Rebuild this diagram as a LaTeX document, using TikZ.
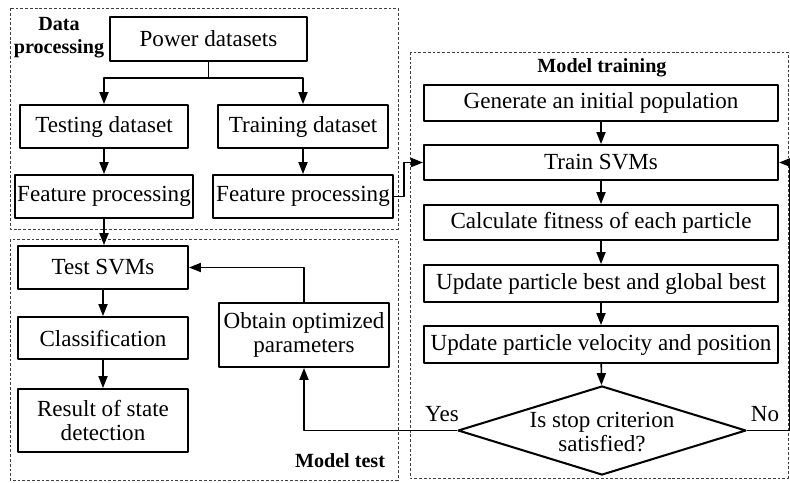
\documentclass[tikz,border=0pt]{standalone}
\usepackage{fontspec}
\setmainfont{Liberation Serif}
\usetikzlibrary{arrows.meta,shapes.geometric}
\begin{document}
\begin{tikzpicture}[x=0.025cm,y=-0.025cm,line join=round,
	font=\fontsize{16.4}{16.5}\selectfont,
	box/.style={draw,line width=1.45pt,inner sep=0pt,align=center},
	grp/.style={draw,line width=0.6pt,dash pattern=on 2pt off 1.4pt,black!75},
	lbl/.style={font=\fontsize{14.3}{16.4}\selectfont\bfseries,align=center,inner sep=0pt},
	arr/.style={line width=1.1pt,-{Triangle[length=8.5pt,width=6.5pt]}},
	ln/.style={line width=1.1pt},
	decision/.style={draw,diamond,line width=1.45pt,inner sep=0pt,minimum width=7.2cm,minimum height=2.225cm}]
	\useasboundingbox (0,0) rectangle (790,482);
	% dashed groups
	\draw[grp] (10,8) rectangle (398,229);
	\draw[grp] (10,239) rectangle (398,480);
	\draw[grp] (410,52) rectangle (788,478);
	\node[lbl] (datalbl) at (59,38) {Data\\processing};
	\node[lbl] (testlbl) at (340,461) {Model test};
	\node[lbl] (trainlbl) at (602,68) {Model training};
	% data processing
	\node[box,minimum width=4.925cm,minimum height=1.1cm] (power) at (208.5,39) {Power datasets};
	\node[box,minimum width=4.2cm,minimum height=1.075cm] (testd) at (104,126.5) {Testing dataset};
	\node[box,minimum width=4.25cm,minimum height=1.075cm] (traind) at (303,126.5) {Training dataset};
	\node[box,minimum width=4.45cm,minimum height=1.075cm] (featL) at (104,196.5) {Feature processing};
	\node[box,minimum width=4.5cm,minimum height=1.075cm] (featR) at (303,196.5) {Feature processing};
	% model test
	\node[box,minimum width=4.25cm,minimum height=1.075cm] (test) at (103,267.5) {Test SVMs};
	\node[box,minimum width=4.25cm,minimum height=1.05cm] (classif) at (103,338) {Classification};
	\node[box,minimum width=4.25cm,minimum height=1.575cm] (result) at (103,420.5) {Result of state\\detection};
	\node[box,minimum width=4.25cm,minimum height=1.6cm] (obtain) at (304,335) {Obtain optimized\\parameters};
	% model training
	\node[box,minimum width=8.85cm,minimum height=0.9cm] (gen) at (601,103) {Generate an initial population};
	\node[box,minimum width=8.85cm,minimum height=0.875cm] (train) at (601,162.5) {Train SVMs};
	\node[box,minimum width=8.85cm,minimum height=0.875cm] (calc) at (601,222.5) {Calculate fitness of each particle};
	\node[box,minimum width=8.85cm,minimum height=0.925cm] (upbest) at (601,283.5) {Update particle best and global best};
	\node[box,minimum width=8.85cm,minimum height=0.925cm] (upvel) at (601,344.5) {Update particle velocity and position};
	\node[decision] (stop) at (602,430.5) {};
	\node[align=center,inner sep=0pt] (stoptxt) at (602,432) {Is stop criterion\\satisfied?};
	\node[inner sep=0pt] (yes) at (442,414) {Yes};
	\node[inner sep=0pt] (no) at (765,414) {No};
	\coordinate (loop) at (790,430.5);
	% connectors
	\draw[ln] (power.south) -- ++(0,16) coordinate (split);
	\draw[arr] (split) -| (testd.north);
	\draw[arr] (split) -| (traind.north);
	\draw[arr] (testd) -- (featL);
	\draw[arr] (traind) -- (featR);
	\draw[arr] (featL.south) -- (featL.south |- test.north);
	\draw[arr] (featR.east) -- ++(10,0) |- (train.west);
	\draw[arr] (test) -- (classif);
	\draw[arr] (classif) -- (result);
	\draw[arr] (obtain.north) |- (test.east);
	\draw[arr] (stop.west) -| (obtain.south);
	\draw[arr] (gen) -- (train);
	\draw[arr] (train) -- (calc);
	\draw[arr] (calc) -- (upbest);
	\draw[arr] (upbest) -- (upvel);
	\draw[arr] (upvel) -- (stop);
	\draw[arr] (stop.east) -- (loop) |- (train.east);
\end{tikzpicture}
\end{document}
